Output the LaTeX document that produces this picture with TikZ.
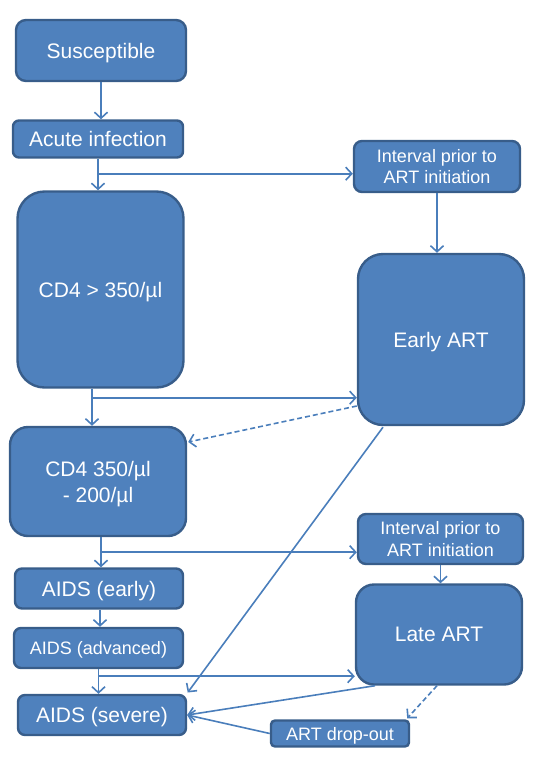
\documentclass[tikz,border=0pt]{standalone}
\usepackage{fontspec}
\setmainfont{Liberation Sans}
\usetikzlibrary{arrows.meta,calc}
\definecolor{boxfill}{RGB}{79,129,189}
\definecolor{boxline}{RGB}{56,93,138}
\definecolor{arrowc}{RGB}{74,126,187}
\begin{document}
\begin{tikzpicture}[x=1pt,y=-1pt,
  box/.style={draw=boxline, line width=2.4pt, fill=boxfill, text=white, align=center,
    inner sep=0pt, text depth=0pt, font=\fontsize{21}{26}\selectfont},
  smalltext/.style={font=\fontsize{18}{21.5}\selectfont},
  conn/.style={draw=arrowc, line width=1.6pt, -{Straight Barb[length=6pt,width=13pt,line width=1.6pt]}},
  dconn/.style={conn, dash pattern=on 5pt off 3pt}]
\useasboundingbox (0,0) rectangle (560,764);

\node[box, minimum width=170pt, minimum height=61pt, rounded corners=10pt] (sus) at (101,50.5) {Susceptible};
\node[box, minimum width=170pt, minimum height=37pt, rounded corners=6pt] (acute) at (98,139) {Acute infection};
\node[box, minimum width=166pt, minimum height=196pt, rounded corners=27pt] (cd4a) at (100.5,289.5) {CD4 > 350/µl};
\node[box, smalltext, minimum width=166pt, minimum height=51pt, rounded corners=8pt] (int1) at (437,166.5) {Interval prior to\\ART initiation};
\node[box, minimum width=166pt, minimum height=171pt, rounded corners=25pt] (early) at (441,339.5) {Early ART};
\node[box, minimum width=176pt, minimum height=109pt, rounded corners=18pt] (cd4b) at (98,481.5) {CD4 350/µl\\ - 200/µl};
\node[box, smalltext, minimum width=165pt, minimum height=50pt, rounded corners=8pt] (int2) at (440.5,539) {Interval prior to\\ART initiation};
\node[box, minimum width=168pt, minimum height=40pt, rounded corners=7pt] (aearly) at (99,588.5) {AIDS (early)};
\node[box, smalltext, minimum width=169pt, minimum height=40pt, rounded corners=7pt] (aadv) at (98.5,648) {AIDS (advanced)};
\node[box, minimum width=166pt, minimum height=100pt, rounded corners=18pt] (late) at (439,634.5) {Late ART};
\node[box, minimum width=168pt, minimum height=40pt, rounded corners=7pt] (asev) at (102,715) {AIDS (severe)};
\node[box, smalltext, minimum width=138pt, minimum height=26pt, rounded corners=4pt] (drop) at (340,733.5) {ART drop-out};

% Susceptible -> Acute
\draw[conn] (sus.south) -- (sus.south |- acute.north);
% Acute -> CD4 > 350, branch to interval 1
\draw[conn] (acute.south) -- (acute.south |- cd4a.north);
\path (acute.south) ++(0,15) coordinate (b1);
\draw[conn] (b1) -- (b1 -| int1.west);
% Interval 1 -> Early ART
\draw[conn] (int1.south) -- (int1.south |- early.north);
% CD4 > 350 -> CD4 350-200, branch to Early ART
\draw[conn] ([xshift=-8.5pt]cd4a.south) -- ([xshift=-8.5pt]cd4a.south |- cd4b.north);
\path ([xshift=-8.5pt]cd4a.south) ++(0,9) coordinate (b2);
\draw[conn] (b2) -- (b2 -| early.west);
% Early ART -> CD4 350-200 (dashed)
\draw[dconn] ($(early.west)+(0,66.5)$) -- ($(cd4b.east)+(1,-39.5)$);
% CD4 350-200 -> AIDS early, branch to interval 2
\draw[conn] ([xshift=3pt]cd4b.south) -- ([xshift=3pt]cd4b.south |- aearly.north);
\path ([xshift=3pt]cd4b.south) ++(0,15) coordinate (b3);
\draw[conn] (b3) -- (b3 -| int2.west);
% Interval 2 -> Late ART
\draw[conn] (int2.south) -- (int2.south |- late.north);
% AIDS early -> AIDS advanced
\draw[conn] ([xshift=1pt]aearly.south) -- ([xshift=1pt]aearly.south |- aadv.north);
% AIDS advanced -> AIDS severe, branch to Late ART
\draw[conn] (aadv.south) -- (aadv.south |- asev.north);
\path (aadv.south) ++(0,7) coordinate (b4);
\draw[conn] (b4) -- (b4 -| late.west);
% Early ART -> AIDS severe
\draw[conn] ($(early.south)+(-58,1)$) -- ($(asev.east)+(0.5,-22.5)$);
% Late ART -> AIDS severe
\draw[conn] ($(late.south)+(-64,0)$) -- (asev.east);
% ART drop-out -> AIDS severe
\draw[conn] (drop.west) -- (asev.east);
% Late ART -> ART drop-out (dashed)
\draw[dconn] ($(late.south)+(-2,0)$) -- ($(drop.north east)+(-3,-1)$);
\end{tikzpicture}
\end{document}
